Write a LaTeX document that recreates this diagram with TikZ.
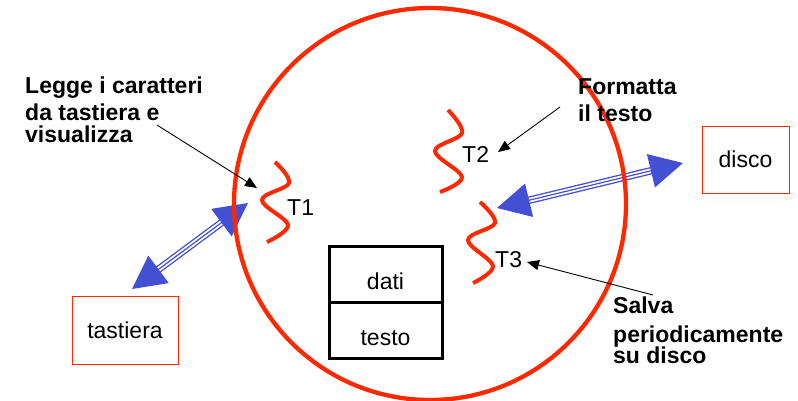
\documentclass[tikz,border=0pt]{standalone}
\usepackage{fontspec}
\setmainfont{Liberation Sans}
\usetikzlibrary{arrows.meta}
\definecolor{redC}{RGB}{255,40,0}
\definecolor{blueC}{RGB}{68,80,212}
\begin{document}
\begin{tikzpicture}[x=1pt,y=-1pt,
  lab/.style={font=\fontsize{23}{27}\selectfont},
  note/.style={font=\fontsize{23}{22}\selectfont\bfseries, align=left, inner sep=0pt, anchor=north west},
  redbox/.style={draw=redC, line width=1pt, lab, inner sep=0pt},
  cell/.style={draw, line width=3pt, minimum width=113pt, minimum height=56pt, inner sep=0pt, text height=31pt, text depth=1pt, lab},
  thread/.style={draw=redC, line width=4pt},
  tlab/.style={lab, inner sep=0pt, anchor=base west},
  ann/.style={draw=black, line width=0.9pt, -{Triangle[length=12pt,width=10pt]}},
  bigarrow/.style={draw=blueC, line width=1.2pt,
    {Triangle[length=33pt,width=34pt]}-{Triangle[length=33pt,width=34pt]},
    preaction={draw=blueC, line width=7.5pt, -, shorten <=31pt, shorten >=31pt},
    preaction={draw=white, line width=4.8pt, -, shorten <=31pt, shorten >=31pt}}
]
\useasboundingbox (0,0) rectangle (798,400);

% big double arrows
\coordinate (a1) at (132,289);
\coordinate (a1b) at (248,203);
\coordinate (a2) at (497,208);
\coordinate (a2b) at (683,163);
\draw[bigarrow] (a1) -- (a1b);
\draw[bigarrow] (a2) -- (a2b);

% process circle
\draw[redC, line width=4.3pt] (430,204) circle[radius=196pt];

% threads
\draw[thread] plot[smooth, tension=0.6] coordinates {(275,162) (289,183) (262,200) (288,225) (267,242)};
\draw[thread] plot[smooth, tension=0.6] coordinates {(448,110) (462,133) (435,151) (462,177) (440,192)};
\draw[thread] plot[smooth, tension=0.6] coordinates {(480,202) (495,223) (468,240) (493,266) (473,283)};
\node[tlab] (t1) at (287,215) {T1};
\node[tlab] (t2) at (462,162) {T2};
\node[tlab] (t3) at (495,267) {T3};

% boxes
\node[redbox, minimum width=106pt, minimum height=68pt] (tastiera) at (125,330) {tastiera};
\node[redbox, minimum width=87pt, minimum height=67pt] (disco) at (745.5,159.5) {disco};
\node[cell] (dati) at (385.5,274) {dati};
\node[cell] (testo) at (385.5,330) {testo};

% annotations
\node[note] (legge) at (25,76.2) {Legge i caratteri\\[5.3pt]da tastiera e\\visualizza};
\node[note] (formatta) at (578,78.5) {Formatta\\[4.7pt]il testo};
\node[note] (salva) at (613,296.5) {Salva\\[7pt]periodicamente\\[-1pt]su disco};
\coordinate (leggeA) at (157,125);
\coordinate (leggeB) at (257,188);
\coordinate (formA) at (560,107);
\coordinate (formB) at (498,152);
\coordinate (salvaA) at (653,295);
\coordinate (salvaB) at (527,262);
\draw[ann] (leggeA) -- (leggeB);
\draw[ann] (formA) -- (formB);
\draw[ann] (salvaA) -- (salvaB);
\end{tikzpicture}
\end{document}
